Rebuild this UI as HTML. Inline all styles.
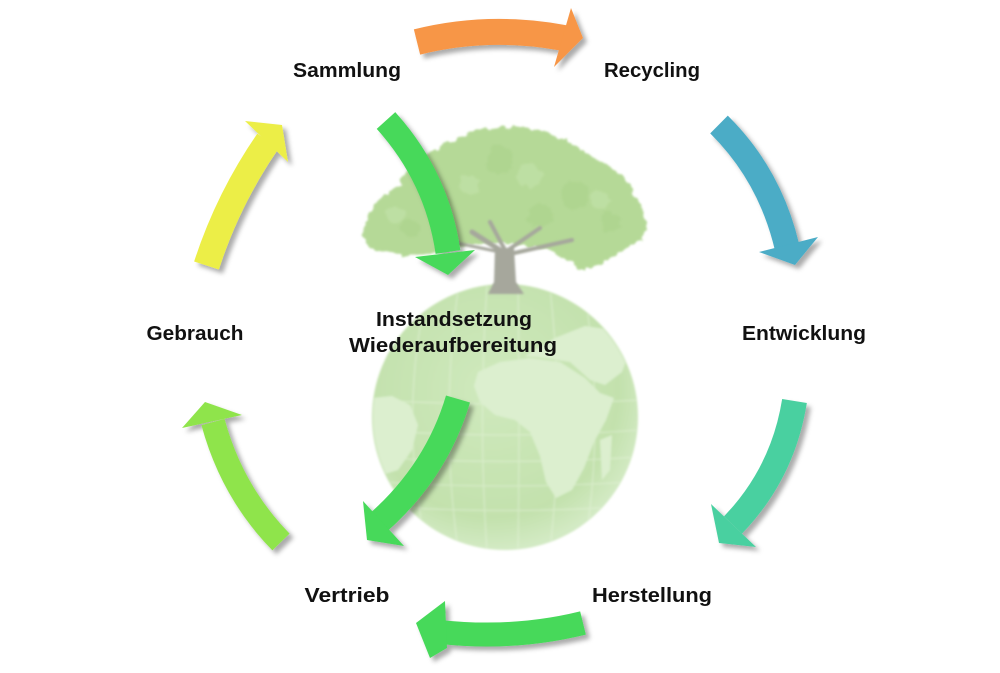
<!DOCTYPE html>
<html><head><meta charset="utf-8"><style>
html,body{margin:0;padding:0;background:#fff;}
svg{display:block}
text{font-family:"Liberation Sans",Arial,sans-serif;font-weight:bold;font-size:20px;fill:#111;}
</style></head><body>
<svg width="1000" height="673" viewBox="0 0 1000 673" xmlns="http://www.w3.org/2000/svg">
<defs>
<filter id="sh" x="-30%" y="-30%" width="160%" height="160%">
<feDropShadow dx="4" dy="4" stdDeviation="2.5" flood-color="#000" flood-opacity="0.33"/>
</filter>
<radialGradient id="gg" cx="45%" cy="40%" r="60%">
<stop offset="0" stop-color="#cfe9bd"/>
<stop offset="0.8" stop-color="#c3e1ad"/>
<stop offset="1" stop-color="#d3eac4"/>
</radialGradient>
<clipPath id="gc"><circle cx="505" cy="417" r="132"/></clipPath>
<filter id="soft"><feGaussianBlur stdDeviation="1"/></filter>
<filter id="leaf" x="-10%" y="-10%" width="120%" height="120%">
<feTurbulence type="fractalNoise" baseFrequency="0.12" numOctaves="2" seed="3" result="n"/>
<feDisplacementMap in="SourceGraphic" in2="n" scale="9" xChannelSelector="R" yChannelSelector="G" result="d"/>
<feGaussianBlur in="d" stdDeviation="1"/>
</filter>
</defs>

<rect width="1000" height="673" fill="#fff"/>

<!-- Globe -->
<g filter="url(#soft)">
<circle cx="505" cy="417" r="133" fill="url(#gg)"/>
<g clip-path="url(#gc)">
  <g stroke="#eaf6e2" stroke-width="1.3" fill="none" opacity="0.45">
    <path d="M458,290 Q440,420 458,550"/>
    <path d="M487,285 Q478,420 487,552"/>
    <path d="M518,285 Q520,420 518,552"/>
    <path d="M550,288 Q565,420 550,550"/>
    <path d="M585,295 Q605,420 585,545"/>
    <path d="M425,300 Q400,420 425,540"/>
    <path d="M372,430 Q505,440 640,430"/>
    <path d="M375,457 Q505,466 638,457"/>
    <path d="M382,482 Q505,490 630,482"/>
    <path d="M395,507 Q505,514 615,507"/>
    <path d="M375,400 Q505,408 640,400"/>
  </g>
  <g fill="#dcefcf">
    <path d="M478,372 L500,362 L530,358 L560,362 L585,378 L600,393 L614,398 L606,420 L594,442 L584,468 L572,490 L556,498 L546,482 L540,456 L530,432 L515,420 L495,415 L480,402 L474,386 Z"/>
    <path d="M525,356 L555,338 L585,326 L612,330 L630,350 L622,372 L605,385 L590,380 L570,362 L545,358 Z"/>
    <path d="M372,398 L392,396 L410,405 L418,425 L412,450 L398,470 L385,474 L376,455 L370,430 Z"/>
    <path d="M600,440 L612,435 L610,470 L602,480 Z"/>
  </g>
</g>
</g>

<!-- Tree canopy -->
<g filter="url(#leaf)">
<path d="M365,238 C362,215 380,195 400,185 C410,165 430,150 455,140 C470,128 500,124 520,128 C545,128 570,140 590,155 C615,165 632,185 640,205 C650,220 648,240 635,245 C620,250 605,262 590,270 C575,268 565,258 550,250 C530,245 515,245 505,242 C490,245 470,245 455,248 C430,255 410,258 390,254 C375,252 366,248 365,238 Z" fill="#b5d997"/>
<g fill="#a8d188" opacity="0.45">
  <circle cx="500" cy="160" r="14"/>
  <circle cx="440" cy="200" r="12"/>
  <circle cx="575" cy="195" r="14"/>
  <circle cx="410" cy="228" r="10"/>
  <circle cx="610" cy="222" r="10"/>
  <circle cx="540" cy="215" r="12"/>
</g>
<g fill="#c6e5b0" opacity="0.5">
  <circle cx="530" cy="175" r="12"/>
  <circle cx="470" cy="185" r="10"/>
  <circle cx="600" cy="200" r="9"/>
  <circle cx="395" cy="215" r="8"/>
</g>
</g>
<g filter="url(#soft)">
<g stroke="#a6a79c" fill="none" stroke-linecap="round">
  <path d="M503,252 L472,232" stroke-width="5"/>
  <path d="M505,250 L490,222" stroke-width="4"/>
  <path d="M508,250 L540,228" stroke-width="4"/>
  <path d="M510,254 L572,240" stroke-width="4"/>
  <path d="M500,252 L452,242" stroke-width="3"/>
</g>
<path d="M495,248 L514,248 L516,282 L524,294 L488,294 L494,282 Z" fill="#a6a79c"/>
</g>

<!-- Arrows -->
<g filter="url(#sh)" fill="#f79646">
  <path d="M417,42 Q489,24 564,38" stroke="#f79646" stroke-width="26" fill="none"/>
  <polygon points="571,8 583,38 554,67"/>
</g>
<g filter="url(#sh)" fill="#4bacc6">
  <path d="M719,124.5 Q770,175 787,247" stroke="#4bacc6" stroke-width="25" fill="none"/>
  <polygon points="759,252 818,237 795,265"/>
</g>
<g filter="url(#sh)" fill="#46d95a">
  <path d="M386,120.5 Q437,177 448,252" stroke="#46d95a" stroke-width="25" fill="none"/>
  <polygon points="415,257 475,250 448,275"/>
</g>
<g filter="url(#sh)" fill="#ecee47">
  <path d="M206.5,265.5 Q228,199 268,141" stroke="#ecee47" stroke-width="26" fill="none"/>
  <polygon points="245,121 288,162 282,125"/>
</g>
<g filter="url(#sh)" fill="#8fe44b">
  <path d="M281,542 Q232,492 213,422" stroke="#8fe44b" stroke-width="24" fill="none"/>
  <polygon points="182,428 205,402 242,415"/>
</g>
<g filter="url(#sh)" fill="#4ad0a0">
  <path d="M794.5,401 Q783,473 733,525" stroke="#4ad0a0" stroke-width="25" fill="none"/>
  <polygon points="711,504 719,543 756,547"/>
</g>
<g filter="url(#sh)" fill="#46d95a">
  <path d="M583,623 Q514,640 440,632" stroke="#46d95a" stroke-width="24" fill="none"/>
  <polygon points="445,601 416,623 430,658 447,648"/>
</g>
<g filter="url(#sh)" fill="#46d95a">
  <path d="M458,399 Q437,470 379,522" stroke="#46d95a" stroke-width="25" fill="none"/>
  <polygon points="363,501 367,540 404,546"/>
</g>

<!-- Labels -->
<text x="347" y="77" text-anchor="middle" textLength="108" lengthAdjust="spacingAndGlyphs">Sammlung</text>
<text x="652" y="77" text-anchor="middle" textLength="96" lengthAdjust="spacingAndGlyphs">Recycling</text>
<text x="804" y="340" text-anchor="middle" textLength="124" lengthAdjust="spacingAndGlyphs">Entwicklung</text>
<text x="195" y="340" text-anchor="middle" textLength="97" lengthAdjust="spacingAndGlyphs">Gebrauch</text>
<text x="454" y="326" text-anchor="middle" textLength="156" lengthAdjust="spacingAndGlyphs">Instandsetzung</text>
<text x="453" y="352" text-anchor="middle" textLength="208" lengthAdjust="spacingAndGlyphs">Wiederaufbereitung</text>
<text x="652" y="602" text-anchor="middle" textLength="120" lengthAdjust="spacingAndGlyphs">Herstellung</text>
<text x="347" y="602" text-anchor="middle" textLength="85" lengthAdjust="spacingAndGlyphs">Vertrieb</text>
</svg>
</body></html>
